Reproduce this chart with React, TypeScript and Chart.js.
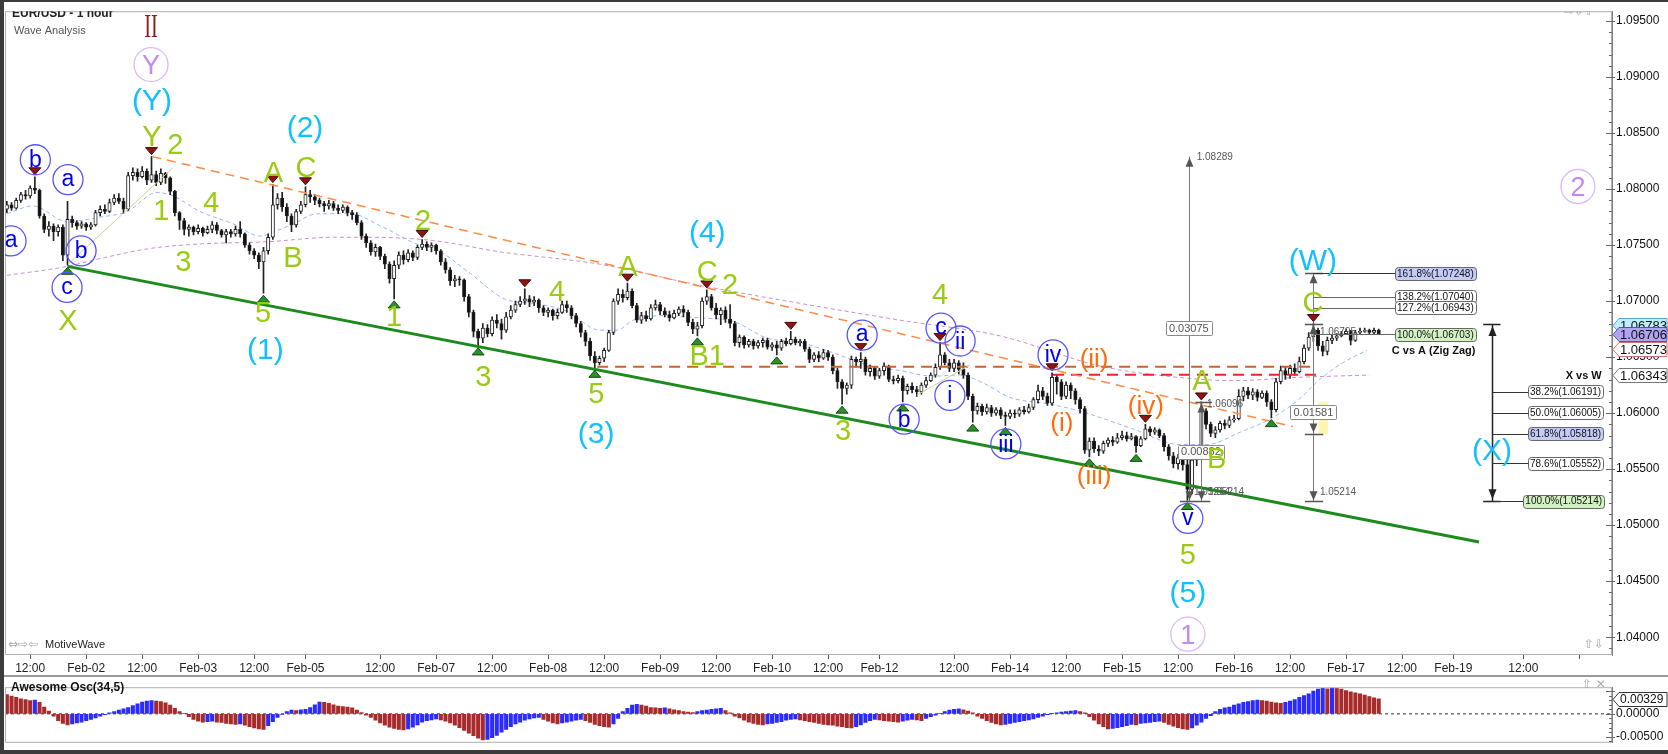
import React, { useEffect, useRef } from "react";
import { Chart, registerables } from "chart.js";

Chart.register(...registerables);

const FONT = "'Liberation Sans', Arial, sans-serif";
Chart.defaults.font.family = FONT;

// ---------------- DATA (prices in pips above 1.0000, one candle per hour) ----------------
const firstOpenPips = 782;
const closePips = [
  786, 783, 790, 795, 794, 801, 799, 776, 764, 767,
  762, 766, 741, 773, 770, 767, 769, 766, 768, 779,
  782, 780, 788, 792, 789, 782, 812, 815, 811, 816,
  808, 813, 806, 814, 810, 798, 779, 772, 764, 766,
  762, 765, 761, 764, 768, 763, 759, 762, 760, 764,
  760, 750, 745, 741, 735, 745, 757, 786, 792, 784,
  776, 768, 780, 786, 795, 793, 790, 787, 785, 787,
  783, 781, 784, 779, 777, 770, 758, 752, 744, 748,
  740, 733, 720, 732, 741, 737, 743, 739, 748, 751,
  748, 750, 745, 735, 728, 718, 720, 719, 704, 690,
  673, 667, 676, 671, 683, 680, 674, 686, 692, 697,
  700, 702, 699, 701, 694, 690, 692, 687, 690, 697,
  694, 687, 680, 672, 664, 651, 645, 649, 656, 672,
  700, 706, 703, 709, 696, 683, 687, 684, 694, 697,
  691, 688, 685, 689, 693, 690, 681, 675, 678, 700,
  704, 694, 688, 692, 684, 680, 663, 668, 661, 664,
  660, 663, 665, 659, 661, 658, 664, 662, 666, 663,
  664, 657, 648, 652, 649, 654, 650, 638, 628, 622,
  625, 648, 646, 648, 637, 640, 633, 638, 642, 630,
  629, 631, 620, 624, 621, 619, 625, 629, 634, 641,
  652, 645, 640, 645, 639, 634, 615, 602, 606, 601,
  605, 600, 603, 598, 597, 600, 599, 603, 601, 605,
  612, 620, 615, 609, 632, 628, 615, 625, 620, 612,
  604, 567, 575, 568, 566, 573, 576, 574, 578, 580,
  577, 579, 571, 577, 586, 583, 585, 580, 570, 562,
  555, 560, 554, 532, 558, 568, 602, 590, 582, 585,
  591, 589, 594, 595, 615, 620, 616, 619, 614, 618,
  610, 603, 628, 638, 634, 640, 637, 646, 658, 668,
  674, 660, 655, 665, 667, 669, 671, 673, 665, 672,
  673, 674, 672, 674, 671,
];
const highPips = [
  789, 788, 792, 797, 799, 803, 811, 800, 778, 771,
  769, 768, 768, 789, 776, 772, 771, 770, 770, 781,
  785, 786, 791, 795, 796, 792, 815, 819, 818, 820,
  818, 829, 816, 818, 815, 811, 799, 780, 774, 768,
  767, 768, 766, 767, 771, 770, 764, 764, 764, 767,
  771, 761, 752, 747, 743, 748, 760, 804, 796, 797,
  787, 778, 782, 789, 802, 799, 795, 792, 789, 790,
  789, 786, 786, 785, 781, 779, 772, 760, 754, 751,
  749, 742, 735, 736, 744, 745, 746, 745, 750, 755,
  753, 752, 751, 746, 738, 730, 723, 722, 720, 706,
  692, 675, 680, 679, 686, 688, 684, 690, 696, 700,
  704, 711, 705, 704, 702, 696, 694, 693, 693, 700,
  700, 696, 689, 682, 674, 667, 655, 651, 658, 674,
  702, 711, 710, 716, 711, 698, 690, 691, 697, 701,
  699, 694, 691, 692, 695, 696, 692, 684, 681, 703,
  710, 706, 698, 694, 695, 697, 682, 670, 669, 666,
  666, 665, 667, 667, 663, 664, 666, 667, 673, 668,
  666, 666, 659, 654, 655, 657, 656, 652, 640, 630,
  627, 651, 650, 654, 650, 643, 641, 640, 645, 643,
  633, 634, 633, 626, 627, 624, 627, 632, 636, 644,
  663, 654, 648, 648, 647, 645, 636, 617, 609, 608,
  608, 607, 605, 605, 601, 603, 603, 605, 606, 608,
  614, 625, 623, 618, 636, 634, 630, 628, 627, 622,
  614, 606, 578, 578, 571, 575, 578, 579, 582, 584,
  583, 582, 580, 579, 590, 588, 587, 586, 582, 572,
  565, 563, 562, 558, 562, 571, 610, 604, 592, 588,
  593, 594, 597, 598, 621, 623, 623, 622, 621, 620,
  620, 612, 631, 642, 641, 643, 644, 650, 661, 672,
  680, 676, 664, 668, 670, 671, 673, 675, 674, 674,
  676, 676, 675, 676, 675,
];
const lowPips = [
  779, 781, 782, 788, 791, 792, 796, 774, 761, 758,
  754, 758, 736, 732, 766, 764, 765, 763, 764, 767,
  776, 778, 779, 786, 787, 778, 781, 808, 807, 810,
  804, 806, 803, 804, 805, 795, 776, 764, 759, 758,
  759, 760, 758, 760, 761, 760, 757, 752, 757, 758,
  757, 748, 742, 738, 729, 707, 742, 755, 782, 780,
  771, 762, 766, 778, 784, 788, 786, 784, 780, 782,
  781, 778, 779, 776, 773, 768, 755, 748, 741, 740,
  737, 729, 716, 702, 729, 733, 735, 736, 737, 746,
  745, 744, 742, 732, 725, 714, 713, 714, 700, 686,
  668, 660, 663, 668, 669, 676, 666, 672, 684, 690,
  695, 697, 695, 696, 690, 687, 686, 683, 684, 689,
  690, 684, 677, 668, 660, 647, 640, 643, 646, 655,
  670, 697, 699, 701, 694, 681, 680, 682, 683, 692,
  688, 686, 682, 684, 687, 686, 678, 671, 669, 676,
  697, 692, 684, 679, 681, 676, 660, 659, 658, 659,
  657, 658, 659, 657, 656, 652, 656, 660, 661, 661,
  660, 655, 645, 646, 646, 648, 647, 635, 622, 608,
  617, 622, 641, 640, 634, 633, 630, 631, 634, 628,
  626, 627, 610, 617, 618, 615, 617, 623, 628, 632,
  639, 643, 637, 637, 635, 631, 612, 592, 599, 598,
  599, 597, 598, 595, 589, 595, 596, 597, 599, 600,
  603, 609, 612, 607, 607, 617, 612, 613, 613, 608,
  600, 564, 561, 565, 562, 564, 570, 571, 573, 576,
  575, 576, 565, 570, 576, 580, 581, 578, 566, 558,
  551, 550, 549, 522, 528, 553, 566, 586, 579, 578,
  583, 586, 587, 592, 594, 611, 613, 612, 611, 613,
  606, 596, 601, 626, 630, 631, 634, 636, 644, 656,
  664, 656, 651, 652, 662, 665, 668, 670, 661, 664,
  671, 672, 671, 671, 670,
];
// Awesome Oscillator (34,5), in units of 0.0001
const aoPips = [
  42, 39, 36, 33, 31, 29, 30, 25, 15, 6,
  -5, -15, -21, -24, -22, -20, -18, -15, -12, -9,
  -5, -2, 2, 5, 8, 11, 14, 18, 22, 26,
  28, 29, 28, 27, 24, 19, 12, 5, 1, -6,
  -12, -16, -18, -17, -16, -18, -19, -21, -22, -23,
  -22, -25, -28, -31, -33, -34, -26, -17, -8, -1,
  5, 8, 7, 9, 10, 14, 20, 26, 25, 23,
  20, 17, 16, 15, 13, 8, 3, -3, -8, -14,
  -20, -25, -29, -32, -34, -35, -33, -29, -24, -18,
  -15, -13, -11, -13, -16, -20, -25, -30, -36, -42,
  -48, -53, -57, -56, -52, -47, -40, -34, -28, -22,
  -18, -14, -11, -9, -8, -12, -16, -20, -22, -20,
  -18, -16, -14, -12, -15, -19, -23, -26, -28, -29,
  -22, -10, 5, 12, 19, 21, 19, 17, 14, 13,
  12, 13, 11, 9, 7, 5, 4, 3, 5, 7,
  8, 10, 11, 12, 7, 2, -5, -9, -14, -18,
  -21, -23, -24, -22, -21, -19, -17, -14, -12, -11,
  -13, -15, -17, -19, -21, -23, -24, -25, -27, -28,
  -30, -31, -28, -24, -19, -15, -12, -13, -15, -16,
  -17, -18, -16, -14, -12, -13, -15, -10, -6, -3,
  1, 5, 8, 10, 11, 9, 6, 2, -5, -10,
  -15, -19, -22, -24, -23, -21, -19, -17, -15, -13,
  -11, -8, -5, -2, 1, 2, 4, 5, 6, 7,
  5, 2, -6, -14, -22, -28, -33, -32, -30, -28,
  -26, -23, -24, -21, -20, -19, -17, -16, -19, -23,
  -27, -30, -33, -34, -31, -25, -18, -10, -4, 5,
  10, 13, 15, 19, 22, 25, 27, 29, 30, 29,
  28, 26, 24, 23, 25, 28, 31, 36, 40, 44,
  50, 54, 56, 55, 57, 56, 54, 51, 48, 46,
  44, 41, 38, 35, 33,
];

// x axis (bar index) ticks and labels
const xTickIdx = [5, 17, 29, 41, 53, 64, 80, 92, 104, 116, 128, 140, 152, 164, 176, 187, 203, 215, 227, 239, 251, 263, 275, 287, 299, 310, 325, 337];
const xTickLabels = ["12:00", "Feb-02", "12:00", "Feb-03", "12:00", "Feb-05", "12:00", "Feb-07", "12:00", "Feb-08", "12:00", "Feb-09", "12:00", "Feb-10", "12:00", "Feb-12", "12:00", "Feb-14", "12:00", "Feb-15", "12:00", "Feb-16", "12:00", "Feb-17", "12:00", "Feb-19", "12:00", ""];
const yTickValues = [1.04, 1.045, 1.05, 1.055, 1.06, 1.065, 1.07, 1.075, 1.08, 1.085, 1.09, 1.095];
const xMin = -0.4, xMax = 344;
const yMin = 1.03841, yMax = 1.09588;

// moving averages: [bar index, pips]
const lightBlueMA = [[0, 778], [5.6, 785], [12.9, 771], [20, 775], [25.8, 780], [32.2, 797], [35.6, 794], [41.4, 780], [48.5, 769], [54.3, 758], [57.9, 763], [61.4, 769], [66.5, 778], [73.6, 778], [80.6, 766], [87.9, 751], [91.3, 748], [98.6, 727], [107.2, 701], [112.8, 698], [120, 691], [127.1, 674], [130.8, 674], [134.2, 683], [141.5, 687], [148.6, 685], [155.6, 682], [162.9, 667], [170, 663], [177, 654], [184.3, 643], [191.4, 638], [198.5, 633], [204.3, 634], [209.2, 627], [215, 614], [223.6, 608], [230.6, 601], [241.3, 586], [251.4, 572], [257.2, 572], [264.3, 583], [271.3, 596], [277.1, 613], [280.8, 628], [286.3, 645], [291.5, 656]];
const purpleMA = [[0, 723], [12.9, 731], [20, 738], [30.7, 747], [41.4, 751], [55.8, 753], [70, 757], [77.2, 757], [91.4, 754], [105.7, 744], [127, 733], [148.6, 714], [170, 698], [191.4, 683], [212.8, 669], [234.3, 642], [248.6, 633], [262.8, 629], [277, 632], [292, 634]];

// trend lines and levels: [bar index, price]
const greenTrend = [[13, 1.0731], [315.5, 1.0485]];
const orangeTrend = [[31.2, 1.0829], [275.6, 1.0588]];
const brownLevel = [[126.5, 1.06414], [279.7, 1.06414]];
const redLevel = [[224.2, 1.06343], [281.4, 1.06343]];
const oliveGuideA = [[13.1, 1.0733], [35.6, 1.0819]];
const oliveGuideB = [[195, 1.0616], [206.4, 1.0643]];

// pivot markers (bar indices)
const topMarks = [6, 31, 57, 64, 89, 111, 133, 150, 168, 183, 200, 224, 244, 256, 280];
const bottomMarks = [13, 55, 83, 101, 126, 148, 165, 179, 192, 207, 214, 232, 242, 253, 271];

// wave labels: [text, bar index, price, style]
const waveLabels = [
  ["II", 30.9, 1.09456, "roman"], ["Y", 30.9, 1.09111, "lav"], ["(Y)", 31.1, 1.08775, "cyan"],
  ["Y", 31.1, 1.08474, "olive"], ["2", 36.1, 1.08404, "olive"], ["b", 6.1, 1.08262, "blue"],
  ["a", 13.1, 1.08085, "blue"], ["a", 0.9, 1.07537, "blue"], ["b", 15.9, 1.07449, "blue"],
  ["c", 12.9, 1.07122, "blue"], ["X", 13.1, 1.06839, "olive"], ["1", 33.1, 1.0782, "olive"],
  ["4", 43.8, 1.07891, "olive"], ["3", 37.8, 1.0736, "olive"], ["A", 57.1, 1.08156, "olive"],
  ["C", 64.1, 1.082, "olive"], ["(2)", 63.9, 1.08536, "cyan"], ["B", 61.3, 1.07396, "olive"],
  ["5", 54.9, 1.0691, "olive"], ["(1)", 55.4, 1.06556, "cyan"], ["1", 83, 1.06874, "olive"],
  ["2", 89.2, 1.07732, "olive"], ["3", 102.1, 1.06335, "olive"], ["4", 117.9, 1.07095, "olive"],
  ["5", 126.3, 1.06184, "olive"], ["(3)", 126.3, 1.05804, "cyan"], ["(4)", 150.1, 1.07599, "cyan"],
  ["A", 133.1, 1.07316, "olive"], ["C", 150.1, 1.07272, "olive"], ["2", 155, 1.07157, "olive"],
  ["B1", 150.1, 1.0652, "olive"], ["4", 200, 1.07069, "olive"], ["a", 183.3, 1.06697, "blue"],
  ["3", 179.2, 1.05857, "olive"], ["b", 192.3, 1.05946, "blue"], ["c", 200.2, 1.06759, "blue"],
  ["ii", 204.3, 1.06644, "blue"], ["i", 202.1, 1.06158, "blue"], ["iii", 214.1, 1.05725, "blue"],
  ["iv", 224.2, 1.0652, "blue"], ["(ii)", 233, 1.06476, "orange"], ["(i)", 226.1, 1.05901, "orange"],
  ["(iii)", 233, 1.05433, "orange"], ["(iv)", 244.1, 1.06052, "orange"], ["A", 256.1, 1.063, "olive"],
  ["B", 259.3, 1.05601, "olive"], ["v", 253.1, 1.05061, "blue"], ["C", 279.9, 1.06998, "olive"],
  ["(W)", 279.9, 1.07351, "cyan"], ["5", 253.1, 1.04743, "olive"], ["(5)", 253.1, 1.04389, "cyan"],
  ["1", 253.1, 1.04027, "lav"], ["2", 336.7, 1.08023, "lav"], ["(X)", 318.3, 1.05654, "cyan"],
];

// measurement tool
const measureLines = [[253.3, 1.08289, 1.05214], [255.9, 1.06096, 1.05214], [280, 1.07248, 1.05214]];
const measureCaps = [[251.4, 257.9, 1.05214], [254.7, 258.3, 1.06096], [278.2, 282.1, 1.07248], [278.2, 282.1, 1.06795], [278.2, 282.1, 1.05818], [278.2, 282.1, 1.05214]];
const measureArrows = [[253.3, 1.08289, -1], [253.3, 1.05214, 1], [255.9, 1.06096, -1], [255.9, 1.05214, 1], [280, 1.07248, -1], [280, 1.06795, -1], [280, 1.05818, 1], [280, 1.05214, 1]];
const measureBoxes = [["0.03075", 253.3, 1.0676], ["0.00882", 255.9, 1.05654], ["0.01581", 280, 1.06007]];
const measureTexts = [["1.08289", 255, 1.0828], ["1.06096", 257.2, 1.0608], ["1.05214", 254.4, 1.0529], ["1.05214", 257.4, 1.0529], ["1.06795", 281.4, 1.06724], ["1.05214", 281.4, 1.0529]];
const highlightZone = [281.1, 283.1, 1.061, 1.0581];

// Fibonacci: C vs A (Zig Zag)
const cvaStart = 280, cvaEnd = 297.5;
const cvaLevels = [["161.8%", 1.07248, "#c3cbf7"], ["138.2%", 1.0704, "#ffffff"], ["127.2%", 1.06943, "#ffffff"], ["100.0%", 1.06703, "#d2f2c4"]];
const cvaTitle = ["C vs A (Zig Zag)", 296.8, 1.06556];
// Fibonacci: X vs W
const xvwLine = [318.3, 1.06795, 1.05214];
const xvwLevels = [["38.2%", 1.06191, "#ffffff", 326], ["50.0%", 1.06005, "#ffffff", 326], ["61.8%", 1.05818, "#c3cbf7", 326], ["78.6%", 1.05552, "#ffffff", 326], ["100.0%", 1.05214, "#d2f2c4", 325]];
const xvwTitle = ["X vs W", 341.8, 1.06335];

// price tags on the axis
const axisTags = [["1.06783", "#bdeefa", "#5aa6c8"], ["1.06706", "#aea4f2", "#5a50a8"], ["1.06573", "#ffffff", "#d07070"], ["1.06343", "#ffffff", "#777777"]];
const aoTag = 0.00329;

// ---------------- helpers ----------------
const toP = (v: number) => 1 + v / 10000;

function rr(ctx: any, x: number, y: number, w: number, h: number, r: number) {
  ctx.beginPath();
  ctx.moveTo(x + r, y);
  ctx.arcTo(x + w, y, x + w, y + h, r);
  ctx.arcTo(x + w, y + h, x, y + h, r);
  ctx.arcTo(x, y + h, x, y, r);
  ctx.arcTo(x, y, x + w, y, r);
  ctx.closePath();
}

function box(ctx: any, text: string, cx: number, cy: number, opts: any) {
  ctx.font = opts.font;
  const tw = ctx.measureText(text).width;
  const w = tw + opts.pad * 2;
  const h = opts.h;
  const left = opts.align === "left" ? cx : cx - w / 2;
  rr(ctx, Math.round(left) + 0.5, Math.round(cy - h / 2) + 0.5, Math.round(w), h, opts.r);
  ctx.fillStyle = opts.fill;
  ctx.fill();
  ctx.strokeStyle = opts.stroke;
  ctx.lineWidth = 1;
  ctx.stroke();
  ctx.fillStyle = opts.color;
  ctx.textAlign = "left";
  ctx.textBaseline = "middle";
  ctx.fillText(text, left + opts.pad, cy + 0.5);
}

function tri(ctx: any, x: number, yTip: number, dir: number, hw: number, h: number, fill: string, stroke: string) {
  // dir -1: pointing up (tip on top); dir 1: pointing down (tip at bottom)
  ctx.beginPath();
  ctx.moveTo(x, yTip);
  ctx.lineTo(x - hw, yTip - dir * h);
  ctx.lineTo(x + hw, yTip - dir * h);
  ctx.closePath();
  ctx.fillStyle = fill;
  ctx.fill();
  if (stroke) {
    ctx.strokeStyle = stroke;
    ctx.lineWidth = 1;
    ctx.stroke();
  }
}

const labelStyles: any = {
  olive: { color: "#9acb12", size: 29, family: FONT },
  cyan: { color: "#10c0ff", size: 30, family: FONT },
  orange: { color: "#ff6c0a", size: 26, family: FONT },
  blue: { color: "#0000ee", size: 23, family: FONT, ring: "#5656ff", r: 15 },
  lav: { color: "#c48af0", size: 27, family: FONT, ring: "#dcbaf8", r: 17 },
  roman: { color: "#8e1c1c", size: 33, family: "'Liberation Serif', serif" },
};

function baselineOffset(t: string, size: number) {
  if (t.startsWith("(")) return size * 0.27;
  if (/^[acv]+$/.test(t)) return size * 0.27;
  if (/^[a-z]+$/.test(t)) return size * 0.33;
  return size * 0.36;
}

const mainDecor = {
  id: "mainDecor",
  afterDraw(chart: any) {
    const ctx = chart.ctx;
    const xs = chart.scales.x;
    const ys = chart.scales.y;
    const ca = chart.chartArea;
    const X = (v: number) => xs.getPixelForValue(v);
    const Y = (v: number) => ys.getPixelForValue(v);
    ctx.save();

    // frame of the price panel
    ctx.strokeStyle = "#b0b0b0";
    ctx.lineWidth = 1;
    ctx.strokeRect(ca.left + 0.5, ca.top + 0.5, ca.right - ca.left - 1, ca.bottom - ca.top - 1);
    ctx.strokeStyle = "#9a9a9a";
    ctx.beginPath();
    ctx.moveTo(0, 675.5);
    ctx.lineTo(chart.width, 675.5);
    ctx.stroke();

    // minor/major ticks on the price axis
    ctx.strokeStyle = "#666";
    for (let k = 1039; k <= 1095; k++) {
      const v = k / 1000;
      const y = Math.round(Y(v)) + 0.5;
      const major = k % 5 === 0;
      ctx.beginPath();
      ctx.moveTo(ca.right - (major ? 6 : 3), y);
      ctx.lineTo(ca.right + (major ? 3 : 0), y);
      ctx.stroke();
    }

    ctx.beginPath();
    ctx.rect(ca.left, ca.top, ca.right - ca.left, ca.bottom - ca.top);
    ctx.clip();

    // highlighted zone
    ctx.fillStyle = "rgba(255,240,150,0.75)";
    ctx.fillRect(X(highlightZone[0]), Y(highlightZone[2]), X(highlightZone[1]) - X(highlightZone[0]), Y(highlightZone[3]) - Y(highlightZone[2]));

    // measurement lines
    ctx.strokeStyle = "#7a7a7a";
    ctx.lineWidth = 1;
    for (const [i, a, b] of measureLines) {
      const x = Math.round(X(i)) + 0.5;
      ctx.beginPath();
      ctx.moveTo(x, Y(a));
      ctx.lineTo(x, Y(b));
      ctx.stroke();
    }
    ctx.strokeStyle = "#555";
    ctx.lineWidth = 1.5;
    for (const [i0, i1, p] of measureCaps) {
      const y = Math.round(Y(p)) + 0.5;
      ctx.beginPath();
      ctx.moveTo(X(i0), y);
      ctx.lineTo(X(i1), y);
      ctx.stroke();
    }
    for (const [i, p, d] of measureArrows) {
      tri(ctx, Math.round(X(i)) + 0.5, Y(p) + (d < 0 ? 1 : -1), d, 4, 9, "#555", "");
    }
    ctx.font = "10px " + FONT;
    ctx.fillStyle = "#555";
    ctx.textAlign = "left";
    ctx.textBaseline = "middle";
    for (const [t, i, p] of measureTexts) {
      ctx.fillText(t, X(i), Y(p));
    }
    for (const [t, i, p] of measureBoxes) {
      box(ctx, t, X(i), Y(p), { font: "11px " + FONT, pad: 3, h: 14, r: 1, fill: "#ffffff", stroke: "#8a8a8a", color: "#555" });
    }

    // C vs A fib
    ctx.strokeStyle = "#333";
    ctx.lineWidth = 1;
    for (const [pct, p, fill] of cvaLevels) {
      const y = Math.round(Y(p)) + 0.5;
      ctx.beginPath();
      ctx.moveTo(X(cvaStart), y);
      ctx.lineTo(X(cvaEnd), y);
      ctx.stroke();
      box(ctx, pct + "(" + p.toFixed(5) + ")", X(cvaEnd), Y(p), { font: "10px " + FONT, pad: 2, h: 13, r: 3, fill, stroke: "#666", color: "#111", align: "left" });
    }
    ctx.font = "bold 11px " + FONT;
    ctx.fillStyle = "#111";
    ctx.textAlign = "left";
    ctx.textBaseline = "middle";
    ctx.fillText(cvaTitle[0], X(cvaTitle[1]), Y(cvaTitle[2]));

    // X vs W fib
    {
      const [i, a, b] = xvwLine;
      const x = Math.round(X(i)) + 0.5;
      ctx.strokeStyle = "#222";
      ctx.lineWidth = 1.5;
      ctx.beginPath();
      ctx.moveTo(x, Y(a));
      ctx.lineTo(x, Y(b));
      ctx.stroke();
      for (const p of [a, b]) {
        const y = Math.round(Y(p)) + 0.5;
        ctx.beginPath();
        ctx.moveTo(X(i - 1.9), y);
        ctx.lineTo(X(i + 1.8), y);
        ctx.stroke();
      }
      tri(ctx, x, Y(a) + 2, -1, 4, 10, "#222", "");
      tri(ctx, x, Y(b) - 2, 1, 4, 10, "#222", "");
      ctx.lineWidth = 1;
      for (const [pct, p, fill, end] of xvwLevels) {
        const y = Math.round(Y(p)) + 0.5;
        ctx.strokeStyle = "#333";
        ctx.beginPath();
        ctx.moveTo(x, y);
        ctx.lineTo(X(end), y);
        ctx.stroke();
        box(ctx, pct + "(" + p.toFixed(5) + ")", X(end), Y(p), { font: "10px " + FONT, pad: 2, h: 13, r: 3, fill, stroke: "#666", color: "#111", align: "left" });
      }
      ctx.font = "bold 11px " + FONT;
      ctx.fillStyle = "#111";
      ctx.textAlign = "right";
      ctx.textBaseline = "middle";
      ctx.fillText(xvwTitle[0], X(xvwTitle[1]), Y(xvwTitle[2]));
    }

    // pivot markers
    for (const i of topMarks) {
      tri(ctx, X(i), Y(toP(highPips[i])) - 2, 1, 6, 7, "#8c1414", "#4a0808");
    }
    for (const i of bottomMarks) {
      tri(ctx, X(i), Y(toP(lowPips[i])) + 2, -1, 6, 7, "#2b8f2b", "#0d4d0d");
    }

    // wave labels
    for (const [t, i, p, k] of waveLabels as any) {
      const st = labelStyles[k];
      const x = X(i);
      const y = Y(p);
      if (st.ring) {
        ctx.beginPath();
        ctx.arc(x, y, st.r, 0, Math.PI * 2);
        ctx.strokeStyle = st.ring;
        ctx.lineWidth = 1.3;
        ctx.stroke();
      }
      ctx.font = st.size + "px " + st.family;
      ctx.fillStyle = st.color;
      ctx.textAlign = "center";
      ctx.textBaseline = "alphabetic";
      if (k === "roman") {
        ctx.save();
        ctx.translate(x, y + st.size * 0.33);
        ctx.scale(0.62, 1);
        ctx.fillText(t, 0, 0);
        ctx.restore();
      } else {
        ctx.fillText(t, x, y + baselineOffset(t, st.size));
      }
    }

    // panel titles and icons
    ctx.textAlign = "left";
    ctx.textBaseline = "middle";
    ctx.font = "bold 12px " + FONT;
    ctx.fillStyle = "#222";
    ctx.fillText("EUR/USD - 1 hour", 12, 14);
    ctx.font = "11px " + FONT;
    ctx.fillStyle = "#555";
    ctx.fillText("Wave Analysis", 14, 31);
    ctx.font = "12px 'DejaVu Sans', sans-serif";
    ctx.fillStyle = "#a8a8a8";
    ctx.fillText("\u21E8\u21E9\u21E7", 1564, 12);
    ctx.fillText("\u21E7\u21E9", 1584, 645);
    ctx.fillText("\u21D4\u21E8\u21E6", 8, 645);
    ctx.font = "11px " + FONT;
    ctx.fillStyle = "#222";
    ctx.fillText("MotiveWave", 45, 645);
    ctx.restore();

    // price tags on the axis
    ctx.save();
    ctx.font = "13px " + FONT;
    for (const [t, fill, stroke] of axisTags) {
      const y = Math.round(Y(parseFloat(t))) + 0.5;
      const x0 = ca.right + 1;
      ctx.beginPath();
      ctx.moveTo(x0, y);
      ctx.lineTo(x0 + 6, y - 7);
      ctx.lineTo(x0 + 54, y - 7);
      ctx.lineTo(x0 + 54, y + 7);
      ctx.lineTo(x0 + 6, y + 7);
      ctx.closePath();
      ctx.fillStyle = fill;
      ctx.fill();
      ctx.strokeStyle = stroke;
      ctx.lineWidth = 1;
      ctx.stroke();
      ctx.fillStyle = "#111";
      ctx.textAlign = "left";
      ctx.textBaseline = "middle";
      ctx.fillText(t, x0 + 7, y + 0.5);
    }
    ctx.restore();
  },
};

const oscDecor = {
  id: "oscDecor",
  afterDraw(chart: any) {
    const ctx = chart.ctx;
    const ys = chart.scales.y;
    const ca = chart.chartArea;
    const Y = (v: number) => ys.getPixelForValue(v);
    ctx.save();
    ctx.strokeStyle = "#9a9a9a";
    ctx.lineWidth = 1;
    ctx.beginPath();
    ctx.moveTo(0, 0.5);
    ctx.lineTo(chart.width, 0.5);
    ctx.stroke();
    ctx.strokeStyle = "#b0b0b0";
    ctx.strokeRect(ca.left + 0.5, ca.top + 0.5, ca.right - ca.left - 1, ca.bottom - ca.top - 1);
    ctx.strokeStyle = "#666";
    for (let k = -6; k <= 5; k++) {
      const y = Math.round(Y(k / 1000)) + 0.5;
      const major = k % 5 === 0;
      ctx.beginPath();
      ctx.moveTo(ca.right - (major ? 6 : 3), y);
      ctx.lineTo(ca.right + (major ? 3 : 0), y);
      ctx.stroke();
    }
    ctx.font = "bold 12px " + FONT;
    ctx.fillStyle = "#111";
    ctx.textAlign = "left";
    ctx.textBaseline = "middle";
    ctx.fillText("Awesome Osc(34,5)", 11, 12);
    ctx.font = "12px 'DejaVu Sans', sans-serif";
    ctx.fillStyle = "#a8a8a8";
    ctx.fillText("\u21E7 \u2715", 1582, 9);
    // value tag
    const y = Math.round(Y(aoTag)) + 0.5;
    const x0 = ca.right + 1;
    ctx.beginPath();
    ctx.moveTo(x0, y);
    ctx.lineTo(x0 + 6, y - 7);
    ctx.lineTo(x0 + 54, y - 7);
    ctx.lineTo(x0 + 54, y + 7);
    ctx.lineTo(x0 + 6, y + 7);
    ctx.closePath();
    ctx.fillStyle = "#fff";
    ctx.fill();
    ctx.strokeStyle = "#333";
    ctx.stroke();
    ctx.font = "12px " + FONT;
    ctx.fillStyle = "#111";
    ctx.fillText(aoTag.toFixed(5), x0 + 7, y + 0.5);
    ctx.restore();
  },
};

function lineDs(points: number[][], color: string, width: number, dash: number[], order: number, smooth = false) {
  return {
    type: "line",
    data: points.map(([x, y]) => ({ x, y })),
    borderColor: color,
    borderWidth: width,
    borderDash: dash,
    pointRadius: 0,
    fill: false,
    order,
    cubicInterpolationMode: smooth ? "monotone" : "default",
    tension: smooth ? 0.4 : 0,
  };
}

export default function App() {
  const mainRef = useRef<HTMLCanvasElement>(null);
  const oscRef = useRef<HTMLCanvasElement>(null);

  useEffect(() => {
    const opens = closePips.map((_, i) => (i === 0 ? firstOpenPips : closePips[i - 1]));
    const bodies = closePips.map((c, i) => ({ x: i, y: [toP(opens[i]), toP(c)] }));
    const wicks = closePips.map((c, i) => ({
      x: i,
      y: [toP(Math.min(lowPips[i], opens[i], c)), toP(Math.max(highPips[i], opens[i], c))],
    }));
    const bodyColors = closePips.map((c, i) => (c >= opens[i] ? "#ffffff" : "#111111"));

    const main = new Chart(mainRef.current as HTMLCanvasElement, {
      type: "bar",
      data: {
        datasets: [
          lineDs(purpleMA.map(([i, v]) => [i, toP(v)]), "#c98fd0", 1, [4, 3], 10, true),
          lineDs(lightBlueMA.map(([i, v]) => [i, toP(v)]), "#96b4ff", 1, [4, 3], 9, true),
          {
            type: "bar",
            data: wicks,
            backgroundColor: "#222222",
            borderWidth: 0,
            barThickness: 1,
            grouped: false,
            order: 4,
          },
          {
            type: "bar",
            data: bodies,
            backgroundColor: bodyColors,
            borderColor: "#222222",
            borderWidth: 1,
            borderSkipped: false,
            barThickness: 3.4,
            grouped: false,
            order: 3,
          },
          lineDs(oliveGuideA, "#cfcf96", 1, [], 2),
          lineDs(oliveGuideB, "#cfcf96", 1, [], 2),
          lineDs(orangeTrend, "#ff8a45", 1.5, [9, 6], 2),
          lineDs(brownLevel, "#c8642d", 2, [11, 7], 2),
          lineDs(redLevel, "#f02424", 2, [11, 7], 2),
          lineDs(greenTrend, "#1c8a1c", 3, [], 1),
        ] as any,
      },
      options: {
        responsive: false,
        animation: false,
        events: [],
        layout: { padding: { left: 5, top: 5, right: 0, bottom: 0 } },
        plugins: { legend: { display: false }, tooltip: { enabled: false } },
        scales: {
          x: {
            type: "linear",
            min: xMin,
            max: xMax,
            offset: false,
            grid: { drawOnChartArea: false, drawTicks: true, tickLength: 4, color: "#555", offset: false },
            border: { display: false },
            ticks: {
              autoSkip: false,
              maxRotation: 0,
              padding: 2,
              color: "#222",
              font: { size: 12, family: FONT },
              callback: (_v: any, idx: number) => xTickLabels[idx] ?? "",
            },
            afterBuildTicks: (s: any) => {
              s.ticks = xTickIdx.map((v) => ({ value: v }));
            },
            afterFit: (s: any) => {
              s.height = 21;
            },
          },
          y: {
            type: "linear",
            position: "right",
            min: yMin,
            max: yMax,
            beginAtZero: false,
            grid: { drawOnChartArea: false, drawTicks: false },
            border: { display: true, color: "#808080" },
            ticks: {
              padding: 4,
              color: "#111",
              font: { size: 12, family: FONT },
              callback: (v: any) => Number(v).toFixed(5),
            },
            afterBuildTicks: (s: any) => {
              s.ticks = yTickValues.map((v) => ({ value: v }));
            },
            afterFit: (s: any) => {
              s.width = 56;
            },
          },
        },
      } as any,
      plugins: [mainDecor],
    });

    const aoColors = aoPips.map((v, i) => (i > 0 && v > aoPips[i - 1] ? "#2b2bff" : "#a82a2a"));
    const osc = new Chart(oscRef.current as HTMLCanvasElement, {
      type: "bar",
      data: {
        datasets: [
          {
            type: "bar",
            data: aoPips.map((v, i) => ({ x: i, y: v / 10000 })),
            backgroundColor: aoColors,
            borderWidth: 0,
            barThickness: 3.4,
            grouped: false,
            order: 1,
          },
          lineDs([[xMin, 0], [xMax, 0]], "#333333", 1, [3, 3], 2),
        ] as any,
      },
      options: {
        responsive: false,
        animation: false,
        events: [],
        layout: { padding: { left: 5, top: 1, right: 0, bottom: 4 } },
        plugins: { legend: { display: false }, tooltip: { enabled: false } },
        scales: {
          x: { type: "linear", min: xMin, max: xMax, offset: false, display: false },
          y: {
            type: "linear",
            position: "right",
            min: -0.006333,
            max: 0.005833,
            beginAtZero: false,
            grid: { drawOnChartArea: false, drawTicks: false },
            border: { display: true, color: "#808080" },
            ticks: {
              padding: 4,
              color: "#111",
              font: { size: 12, family: FONT },
              callback: (v: any) => Number(v).toFixed(5),
            },
            afterBuildTicks: (s: any) => {
              s.ticks = [{ value: -0.005 }, { value: 0 }];
            },
            afterFit: (s: any) => {
              s.width = 56;
            },
          },
        },
      } as any,
      plugins: [oscDecor],
    });

    return () => {
      main.destroy();
      osc.destroy();
    };
  }, []);

  return (
    <div style={{ position: "absolute", left: 0, top: 0, width: 1668, height: 754, background: "#ffffff", overflow: "hidden" }}>
      <canvas ref={mainRef} width={1668} height={676} style={{ position: "absolute", left: 0, top: 0, width: 1668, height: 676 }} />
      <canvas ref={oscRef} width={1668} height={78} style={{ position: "absolute", left: 0, top: 676, width: 1668, height: 78 }} />
      <div style={{ position: "absolute", left: 0, top: 0, width: 4, height: 754, background: "#3b3b3b" }} />
      <div style={{ position: "absolute", left: 0, top: 750, width: 1668, height: 4, background: "#3b3b3b" }} />
      <div style={{ position: "absolute", left: 0, top: 0, width: 1668, height: 2, background: "#3b3b3b" }} />
    </div>
  );
}
